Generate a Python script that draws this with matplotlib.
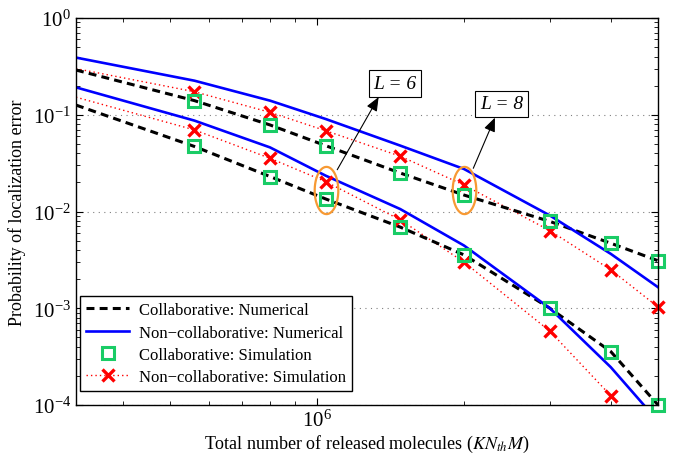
import numpy as np
import matplotlib
matplotlib.use("Agg")
import matplotlib.pyplot as plt
from matplotlib.path import Path

plt.rcParams['font.family'] = ['Liberation Serif', 'DejaVu Serif']
plt.rcParams['mathtext.fontset'] = 'stix'

# total number of released molecules (K*N_th*M)
molecules = [3.2e5, 5.6e5, 8.0e5, 1.04e6, 1.48e6, 2.0e6, 3.0e6, 4.0e6, 5.0e6]

# L = 8 (upper group)
collabNum8 = [0.29, 0.14, 0.0785, 0.048, 0.025, 0.0148, 0.0079, 0.0047, 0.0031]
nonCollabNum8 = [0.39, 0.225, 0.14, 0.0905, 0.048, 0.0275, 0.0091, 0.00365, 0.00165]
collabSim8 = [0.14, 0.0785, 0.048, 0.025, 0.0148, 0.0079, 0.0047, 0.0031]
nonCollabSim8 = [0.30, 0.173, 0.106, 0.0685, 0.0373, 0.0188, 0.00635, 0.0025, 0.00103]

# L = 6 (lower group)
collabNum6 = [0.126, 0.047, 0.023, 0.0135, 0.0069, 0.00356, 0.001, 0.000357, 0.0001]
nonCollabNum6 = [0.192, 0.087, 0.046, 0.0235, 0.0106, 0.00445, 0.001, 0.000246, 0.000068]
collabSim6 = [0.047, 0.023, 0.0135, 0.0069, 0.00356, 0.001, 0.000357, 0.0001]
nonCollabSim6 = [0.152, 0.0697, 0.0355, 0.0204, 0.0082, 0.003, 0.00058, 0.000125, 0.00003]

labels = ["Collaborative: Numerical",
          "Non\u2212collaborative: Numerical",
          "Collaborative: Simulation",
          "Non\u2212collaborative: Simulation"]

green = (0.1, 0.8, 0.4)
orange = (0.97, 0.6, 0.2)
ymin = 1e-4

fig = plt.figure(figsize=(6.76, 4.64), dpi=100)
ax = fig.add_axes([0.1124, 0.125, 0.861, 0.834])

simX = molecules[1:]
handles = []
for collabNum, nonCollabNum, collabSim, nonCollabSim in [
        (collabNum8, nonCollabNum8, collabSim8, nonCollabSim8),
        (collabNum6, nonCollabNum6, collabSim6, nonCollabSim6)]:
    h4line, = ax.plot(molecules, nonCollabSim, color='red', lw=1.0, linestyle=(0, (1, 2.2)))
    h1, = ax.plot(molecules, collabNum, color='black', lw=2.2, linestyle=(0, (2.6, 1.7)))
    h2, = ax.plot(molecules, nonCollabNum, color='blue', lw=1.9)
    # only markers that fall inside the axis are drawn (they are not clipped at the frame)
    crossPts = [(x, y) for x, y in zip(simX, nonCollabSim[1:]) if y >= ymin]
    h4mk, = ax.plot([p[0] for p in crossPts], [p[1] for p in crossPts], color='red',
                    linestyle='none', marker='x', ms=8, mew=2.4, clip_on=False)
    h3, = ax.plot(simX, collabSim, color=green, linestyle='none', marker='s', ms=8,
                  mfc='none', mew=2.2, clip_on=False)
    handles = [h1, h2, h3, (h4line, h4mk)]

ax.set_xscale('log')
ax.set_yscale('log')
ax.set_xlim(molecules[0], molecules[-1])
ax.set_ylim(ymin, 1)

ax.grid(axis='y', which='major', linestyle=(0, (1, 4)), color='gray', lw=0.8)
ax.tick_params(which='both', direction='in', top=True, right=True, labelsize=15)
ax.tick_params(which='major', length=5)
ax.tick_params(which='minor', length=3)
ax.xaxis.set_minor_formatter(matplotlib.ticker.NullFormatter())
for spine in ax.spines.values():
    spine.set_linewidth(1.0)

ax.set_xlabel(r"Total number of released molecules ($KN_{th}M$)", fontsize=13, labelpad=1)
ax.set_ylabel("Probability of localization error", fontsize=13, labelpad=5)

leg = ax.legend(handles, labels, loc='lower left', bbox_to_anchor=(0.007, 0.036),
                borderaxespad=0, fontsize=12, handlelength=2.6, handletextpad=0.6,
                labelspacing=0.38, fancybox=False, edgecolor='black', framealpha=1,
                borderpad=0.35)
leg.get_frame().set_linewidth(1.0)

# ellipses round the highlighted points
t = np.linspace(0, 2 * np.pi, 60)
ellipse = Path(np.column_stack([0.5 * np.cos(t), np.sin(t)]))
groups = [("L = 6", 3, collabSim6[2], nonCollabSim6[3], (50, 77), 0.19),
          ("L = 8", 5, collabSim8[4], nonCollabSim8[5], (27, 62), 0.4)]
for text, i, sq, cross, offset, relx in groups:
    yc = np.sqrt(sq * cross)
    ax.plot([molecules[i]], [yc], marker=ellipse, ms=34, mfc='none', mec=orange, mew=1.6)
    ax.annotate(text, xy=(molecules[i], yc), xytext=offset, textcoords='offset points',
                ha='center', va='center', fontsize=14, style='italic',
                bbox=dict(boxstyle='square,pad=0.25', fc='white', ec='black', lw=0.8),
                arrowprops=dict(arrowstyle='<|-,head_length=0.6,head_width=0.25',
                                color='black', lw=0.8, shrinkA=0, shrinkB=17,
                                relpos=(relx, 0)))

fig.savefig("out.png", dpi=100)
